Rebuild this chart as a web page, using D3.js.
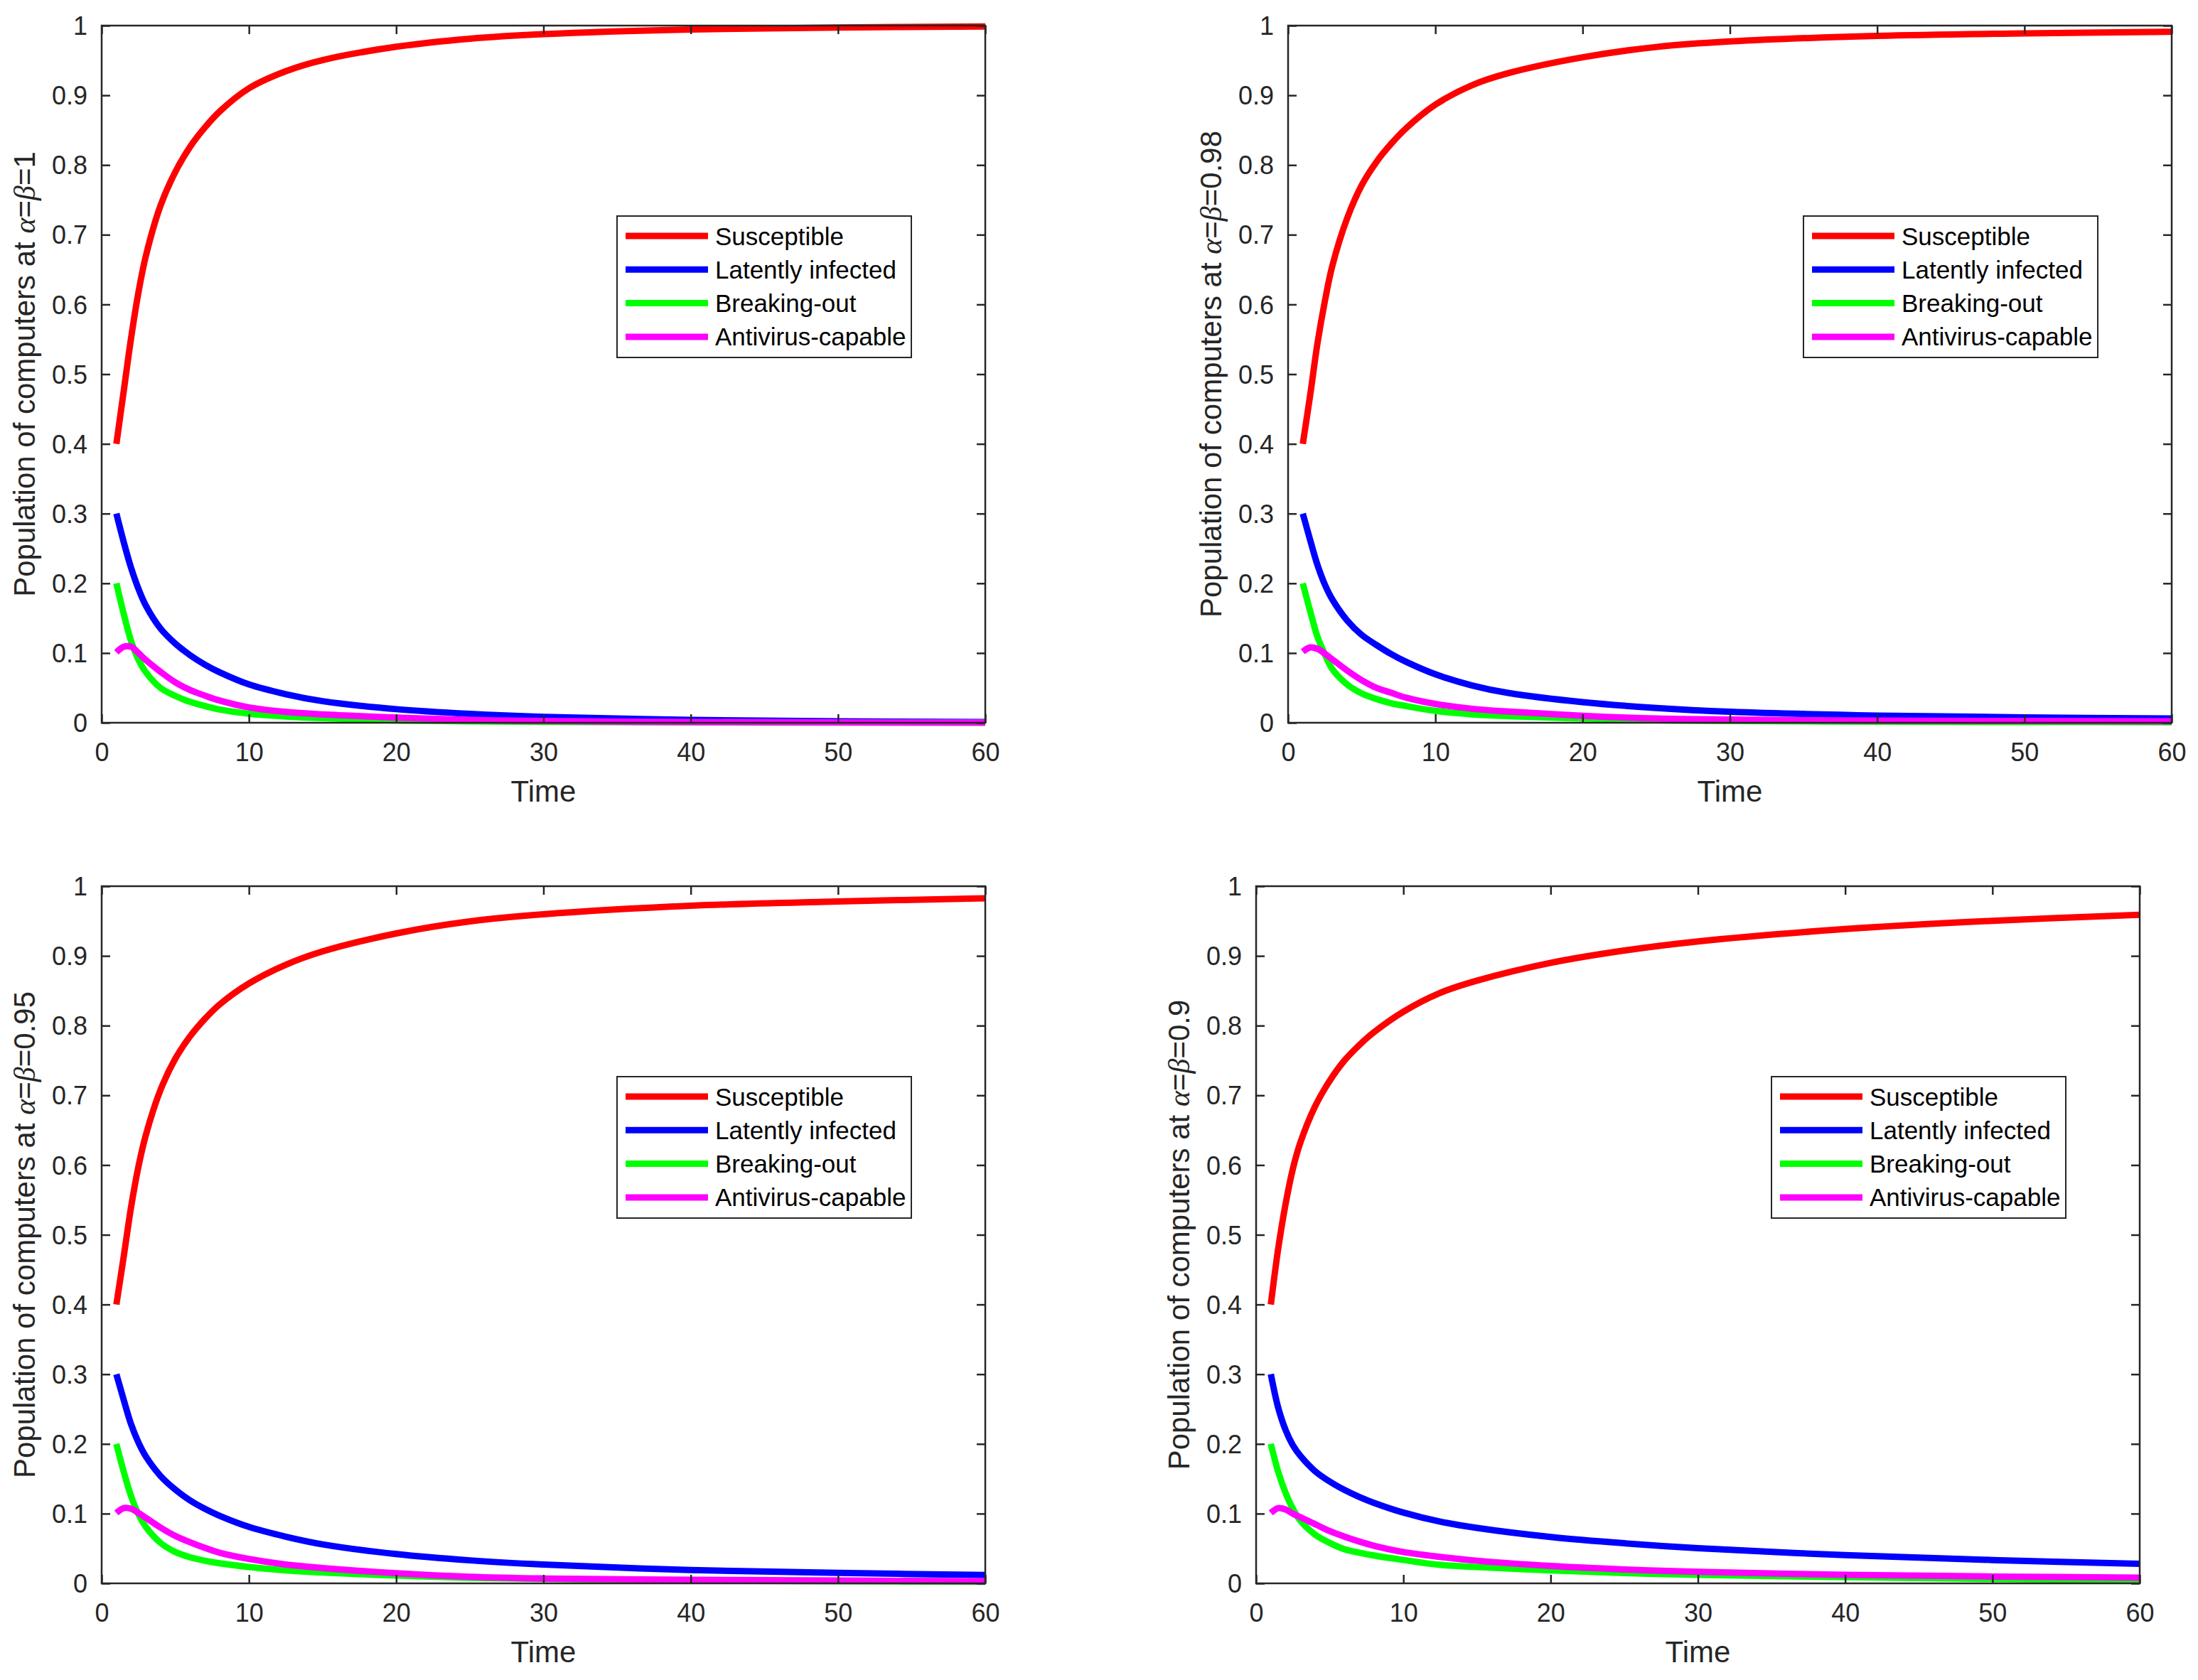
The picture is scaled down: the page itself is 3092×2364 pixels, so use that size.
<!DOCTYPE html>
<html>
<head>
<meta charset="utf-8">
<script src="https://cdn.jsdelivr.net/npm/d3@7/dist/d3.min.js"></script>
<style>
  body { margin: 0; background: #ffffff; }
  svg { display: block; }
</style>
</head>
<body>
<svg id="chart" width="3092" height="2364"></svg>
<script>
// ---------------- DATA ----------------
const times = [1, 1.5, 2, 2.5, 3, 4, 5, 6, 7, 8, 10, 12.5, 15, 20, 25, 30, 40, 50, 60];

const xTicks = [0, 10, 20, 30, 40, 50, 60];
const yTicks = [0, 0.1, 0.2, 0.3, 0.4, 0.5, 0.6, 0.7, 0.8, 0.9, 1];
const yTickLabels = ["0", "0.1", "0.2", "0.3", "0.4", "0.5", "0.6", "0.7", "0.8", "0.9", "1"];
const orderLabels = ["1", "0.98", "0.95", "0.9"];
const seriesNames = ["Susceptible", "Latently infected", "Breaking-out", "Antivirus-capable"];
const seriesColors = ["#ff0000", "#0000ff", "#00ff00", "#ff00ff"];
const xLabel = "Time";

// alpha = beta = 1
const susceptible1 = [0.400, 0.476, 0.552, 0.6175, 0.6695, 0.742, 0.790, 0.826, 0.8535, 0.8765, 0.910, 0.9345, 0.9505, 0.9696, 0.9812, 0.9878, 0.9945, 0.9973, 0.9987];
const latent1      = [0.300, 0.259, 0.222, 0.192, 0.168, 0.135, 0.1135, 0.097, 0.0835, 0.0725, 0.055, 0.041, 0.031, 0.0195, 0.0128, 0.0085, 0.004, 0.002, 0.001];
const breaking1    = [0.200, 0.156, 0.117, 0.0905, 0.0725, 0.050, 0.0385, 0.030, 0.024, 0.019, 0.013, 0.009, 0.0065, 0.0034, 0.002, 0.0012, 0.0005, 0.0002, 0.0001];
const antivirus1   = [0.101, 0.109, 0.109, 0.100, 0.090, 0.073, 0.058, 0.047, 0.039, 0.032, 0.022, 0.0155, 0.012, 0.0075, 0.004, 0.0025, 0.001, 0.0005, 0.0002];

// alpha = beta = 0.98
const susceptible2 = [0.400, 0.470, 0.545, 0.605, 0.655, 0.723, 0.771, 0.8045, 0.8305, 0.8525, 0.8865, 0.9145, 0.932, 0.9545, 0.9693, 0.9772, 0.9852, 0.9888, 0.9912];
const latent2      = [0.300, 0.262, 0.226, 0.198, 0.177, 0.147, 0.126, 0.1115, 0.0985, 0.0875, 0.0695, 0.0535, 0.0425, 0.0295, 0.0212, 0.0158, 0.0103, 0.0077, 0.006];
const breaking2    = [0.200, 0.160, 0.123, 0.098, 0.077, 0.055, 0.042, 0.034, 0.028, 0.024, 0.017, 0.012, 0.0095, 0.006, 0.0035, 0.0025, 0.0015, 0.001, 0.0008];
const antivirus2   = [0.102, 0.108, 0.106, 0.099, 0.091, 0.075, 0.061, 0.050, 0.043, 0.036, 0.027, 0.020, 0.016, 0.010, 0.006, 0.0045, 0.003, 0.0025, 0.002];

// alpha = beta = 0.95
const susceptible3 = [0.400, 0.469, 0.540, 0.598, 0.643, 0.708, 0.7525, 0.7845, 0.8095, 0.8302, 0.8605, 0.8873, 0.9065, 0.9322, 0.9495, 0.9597, 0.9719, 0.978, 0.9827];
const latent3      = [0.300, 0.263, 0.228, 0.202, 0.182, 0.154, 0.1345, 0.119, 0.107, 0.097, 0.081, 0.067, 0.056, 0.042, 0.033, 0.027, 0.019, 0.015, 0.012];
const breaking3    = [0.200, 0.160, 0.125, 0.099, 0.081, 0.058, 0.045, 0.0375, 0.0325, 0.0288, 0.0235, 0.0187, 0.0155, 0.0112, 0.008, 0.0063, 0.0041, 0.003, 0.0023];
const antivirus3   = [0.101, 0.108, 0.107, 0.101, 0.094, 0.080, 0.068, 0.059, 0.051, 0.044, 0.035, 0.027, 0.022, 0.0146, 0.0095, 0.007, 0.005, 0.004, 0.003];

// alpha = beta = 0.9
const susceptible4 = [0.400, 0.480, 0.544, 0.595, 0.632, 0.684, 0.721, 0.750, 0.772, 0.7905, 0.820, 0.847, 0.8645, 0.890, 0.9077, 0.9208, 0.9385, 0.9503, 0.959];
const latent4      = [0.300, 0.252, 0.220, 0.198, 0.183, 0.161, 0.146, 0.134, 0.124, 0.1155, 0.1015, 0.0885, 0.0795, 0.0665, 0.0575, 0.0505, 0.0405, 0.0335, 0.028];
const breaking4    = [0.200, 0.160, 0.130, 0.107, 0.090, 0.070, 0.058, 0.049, 0.044, 0.040, 0.0335, 0.0265, 0.0235, 0.0185, 0.0148, 0.0122, 0.0088, 0.0064, 0.0048];
const antivirus4   = [0.101, 0.108, 0.106, 0.100, 0.095, 0.085, 0.075, 0.067, 0.060, 0.054, 0.045, 0.038, 0.0325, 0.025, 0.020, 0.0165, 0.0122, 0.0098, 0.0082];

const panelSeries = [
  [susceptible1, latent1, breaking1, antivirus1],
  [susceptible2, latent2, breaking2, antivirus2],
  [susceptible3, latent3, breaking3, antivirus3],
  [susceptible4, latent4, breaking4, antivirus4]
];

// ---------------- LAYOUT ----------------
const panelLayout = [
  { left: 143,  top: 36 },
  { left: 1812, top: 36 },
  { left: 143,  top: 1247 },
  { left: 1767, top: 1247 }
];
const plotW = 1243, plotH = 981;
const axisColor = "#262626";
const fontFam = "'Liberation Sans', Arial, Helvetica, sans-serif";
const greekFam = "'Liberation Serif', 'Times New Roman', serif";

const svg = d3.select("#chart");
svg.append("rect").attr("width", 3092).attr("height", 2364).attr("fill", "#fff");

panelLayout.forEach((pos, pi) => {
  const g = svg.append("g").attr("transform", `translate(${pos.left},${pos.top})`);
  const x = d3.scaleLinear().domain([0, 60]).range([0, plotW]);
  const y = d3.scaleLinear().domain([0, 1]).range([plotH, 0]);

  // series lines
  const line = d3.line()
    .x((d, i) => x(times[i]))
    .y(d => y(d))
    .curve(d3.curveCatmullRom.alpha(0.5));

  panelSeries[pi].forEach((vals, si) => {
    g.append("path")
      .datum(vals)
      .attr("d", line)
      .attr("fill", "none")
      .attr("stroke", seriesColors[si])
      .attr("stroke-width", 9)
      .attr("stroke-linejoin", "round");
  });

  // axes (ticks inward, mirrored)
  const tickLen = 12;
  const xAxisB = d3.axisBottom(x).tickValues(xTicks).tickSizeInner(-tickLen).tickSizeOuter(0).tickPadding(28).tickFormat(d3.format("d"));
  const xAxisT = d3.axisTop(x).tickValues(xTicks).tickSizeInner(-tickLen).tickSizeOuter(0).tickFormat("");
  const yAxisL = d3.axisLeft(y).tickValues(yTicks).tickSizeInner(-tickLen).tickSizeOuter(0).tickPadding(20)
    .tickFormat((d, i) => yTickLabels[i]);
  const yAxisR = d3.axisRight(y).tickValues(yTicks).tickSizeInner(-tickLen).tickSizeOuter(0).tickFormat("");

  const gxb = g.append("g").attr("transform", `translate(0,${plotH})`).call(xAxisB);
  const gxt = g.append("g").call(xAxisT);
  const gyl = g.append("g").call(yAxisL);
  const gyr = g.append("g").attr("transform", `translate(${plotW},0)`).call(yAxisR);

  [gxb, gxt, gyl, gyr].forEach(ax => {
    ax.select(".domain").remove();
    ax.selectAll(".tick line").attr("stroke", axisColor).attr("stroke-width", 2.5);
    ax.selectAll(".tick text").attr("fill", axisColor).attr("font-size", 36).attr("font-family", fontFam);
  });
  gxb.selectAll(".tick text").attr("dy", "0.71em");
  gyl.selectAll(".tick text").attr("dy", "0.35em");

  // box
  g.append("rect").attr("x", 0).attr("y", 0).attr("width", plotW).attr("height", plotH)
    .attr("fill", "none").attr("stroke", axisColor).attr("stroke-width", 2.5);

  // x label
  g.append("text").attr("x", plotW / 2).attr("y", plotH + 111)
    .attr("text-anchor", "middle").attr("font-size", 42).attr("font-family", fontFam)
    .attr("fill", axisColor).text(xLabel);

  // y label
  const yl = g.append("text")
    .attr("transform", `translate(-94,${plotH / 2}) rotate(-90)`)
    .attr("text-anchor", "middle").attr("font-size", 42).attr("font-family", fontFam)
    .attr("fill", axisColor);
  yl.append("tspan").text("Population of computers at ");
  yl.append("tspan").attr("font-style", "italic").attr("font-family", greekFam).text("α");
  yl.append("tspan").text("=");
  yl.append("tspan").attr("font-style", "italic").attr("font-family", greekFam).text("β");
  yl.append("tspan").text("=" + orderLabels[pi]);

  // legend
  const lg = g.append("g").attr("transform", "translate(725,268)");
  lg.append("rect").attr("width", 414).attr("height", 199)
    .attr("fill", "#fff").attr("stroke", axisColor).attr("stroke-width", 2);
  seriesNames.forEach((name, si) => {
    const cy = 28 + si * 47.3;
    lg.append("line").attr("x1", 12).attr("x2", 128).attr("y1", cy).attr("y2", cy)
      .attr("stroke", seriesColors[si]).attr("stroke-width", 9);
    lg.append("text").attr("x", 138).attr("y", cy + 12.5)
      .attr("font-size", 35).attr("font-family", fontFam).attr("fill", "#000").text(name);
  });
});
</script>
</body>
</html>
